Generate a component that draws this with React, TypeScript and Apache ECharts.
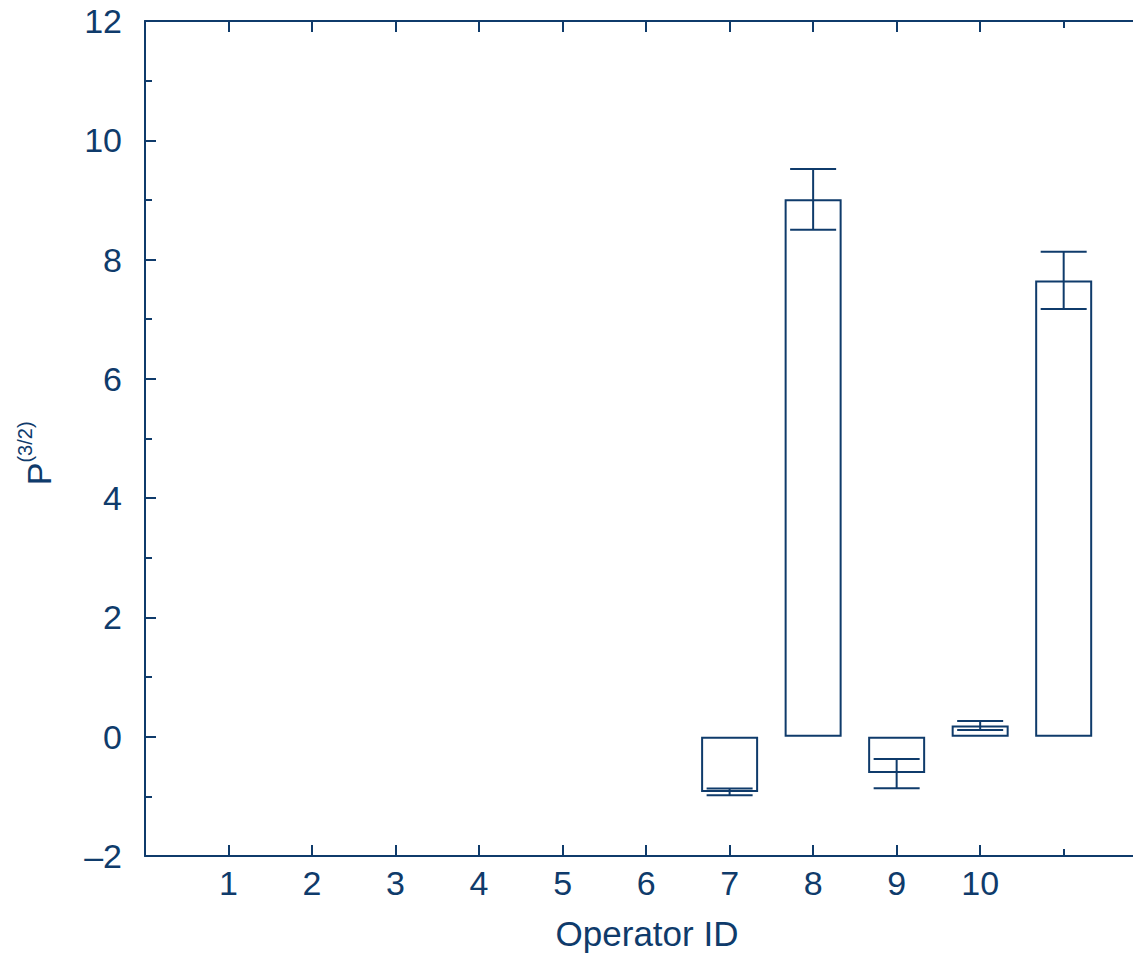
import React, { useEffect, useRef } from "react";
import * as echarts from "echarts";

const positions = [7, 8, 9, 10, 11];
const values = [-0.925, 9.01, -0.61, 0.19, 7.65];
const errLow = [-0.98, 8.5, -0.866, 0.112, 7.17];
const errHigh = [-0.87, 9.52, -0.374, 0.263, 8.13];
const xLabels = ["1", "2", "3", "4", "5", "6", "7", "8", "9", "10"];
const xTickMain = [1, 2, 3, 4, 5, 6, 7, 8, 9, 10];
const xTickShort = [11];

const C = "#0f3b6b";
const FONT = "Liberation Sans, Arial, sans-serif";

export default function App() {
  const ref = useRef<HTMLDivElement>(null);
  useEffect(() => {
    const chart = echarts.init(ref.current!, null, { renderer: "svg" });
    const baseX = {
      type: "value" as const,
      min: 0,
      max: 11.83,
      interval: 1,
      splitLine: { show: false },
    };
    chart.setOption({
      animation: false,
      grid: { left: 145, top: 21, right: 0, bottom: 100, containLabel: false },
      xAxis: [
        {
          ...baseX,
          position: "bottom",
          name: "Operator ID",
          nameLocation: "middle",
          nameGap: 60,
          nameTextStyle: { color: C, fontSize: 35, fontFamily: FONT, padding: [0, 0, 0, 16] },
          axisLine: { show: true, onZero: false, lineStyle: { color: C, width: 2 } },
          axisTick: { show: true, inside: true, length: 11, lineStyle: { color: C, width: 2 }, customValues: xTickMain },
          axisLabel: {
            color: C,
            fontSize: 34,
            fontFamily: FONT,
            margin: 10,
            customValues: xTickMain,
            formatter: (v: number) => xLabels[Math.round(v) - 1] ?? "",
          },
        },
        {
          ...baseX,
          position: "bottom",
          axisLine: { show: false, onZero: false },
          axisTick: { show: true, inside: true, length: 7, lineStyle: { color: C, width: 2 }, customValues: xTickShort },
          axisLabel: { show: false },
        },
        {
          ...baseX,
          position: "top",
          axisLine: { show: true, onZero: false, lineStyle: { color: C, width: 2 } },
          axisTick: { show: true, inside: true, length: 11, lineStyle: { color: C, width: 2 }, customValues: xTickMain },
          axisLabel: { show: false },
        },
        {
          ...baseX,
          position: "top",
          axisLine: { show: false, onZero: false },
          axisTick: { show: true, inside: true, length: 7, lineStyle: { color: C, width: 2 }, customValues: xTickShort },
          axisLabel: { show: false },
        },
      ],
      yAxis: {
        type: "value",
        min: -2,
        max: 12,
        interval: 2,
        position: "left",
        splitLine: { show: false },
        axisLine: { show: true, onZero: false, lineStyle: { color: C, width: 2 } },
        axisTick: { show: true, inside: true, length: 11, lineStyle: { color: C, width: 2 } },
        minorTick: { show: true, splitNumber: 2, length: 7, lineStyle: { color: C, width: 2 } },
        axisLabel: {
          color: C,
          fontSize: 34,
          fontFamily: FONT,
          margin: 23,
          formatter: (v: number) => (v < 0 ? "\u2013" + Math.abs(v) : String(v)),
        },
      },
      graphic: [
        {
          type: "text",
          x: 39,
          y: 474,
          rotation: Math.PI / 2,
          style: { text: "P", fill: C, fontSize: 34, fontFamily: FONT, align: "center", verticalAlign: "middle" },
        },
        {
          type: "text",
          x: 25,
          y: 442,
          rotation: Math.PI / 2,
          style: { text: "(3/2)", fill: C, fontSize: 20, fontFamily: FONT, align: "center", verticalAlign: "middle" },
        },
      ],
      series: [
        {
          type: "bar",
          xAxisIndex: 0,
          barWidth: 57,
          data: positions.map((p, i) => [p, values[i]]),
          itemStyle: { color: "rgba(255,255,255,0)", borderColor: C, borderWidth: 2 },
          z: 2,
        },
        {
          type: "custom",
          xAxisIndex: 0,
          data: positions.map((p, i) => [p, errLow[i], errHigh[i]]),
          renderItem: (params: any, api: any) => {
            const x = api.value(0);
            const lo = api.coord([x, api.value(1)]);
            const hi = api.coord([x, api.value(2)]);
            const hw = 23;
            const style = { stroke: C, lineWidth: 2, fill: "none" };
            return {
              type: "group",
              children: [
                { type: "line", shape: { x1: lo[0], y1: lo[1], x2: hi[0], y2: hi[1] }, style },
                { type: "line", shape: { x1: lo[0] - hw, y1: lo[1], x2: lo[0] + hw, y2: lo[1] }, style },
                { type: "line", shape: { x1: hi[0] - hw, y1: hi[1], x2: hi[0] + hw, y2: hi[1] }, style },
              ],
            };
          },
          z: 3,
        },
      ],
    });
    return () => chart.dispose();
  }, []);
  return (
    <div
      ref={ref}
      style={{ position: "absolute", left: 0, top: 0, width: 1133, height: 956, background: "#fff" }}
    />
  );
}
